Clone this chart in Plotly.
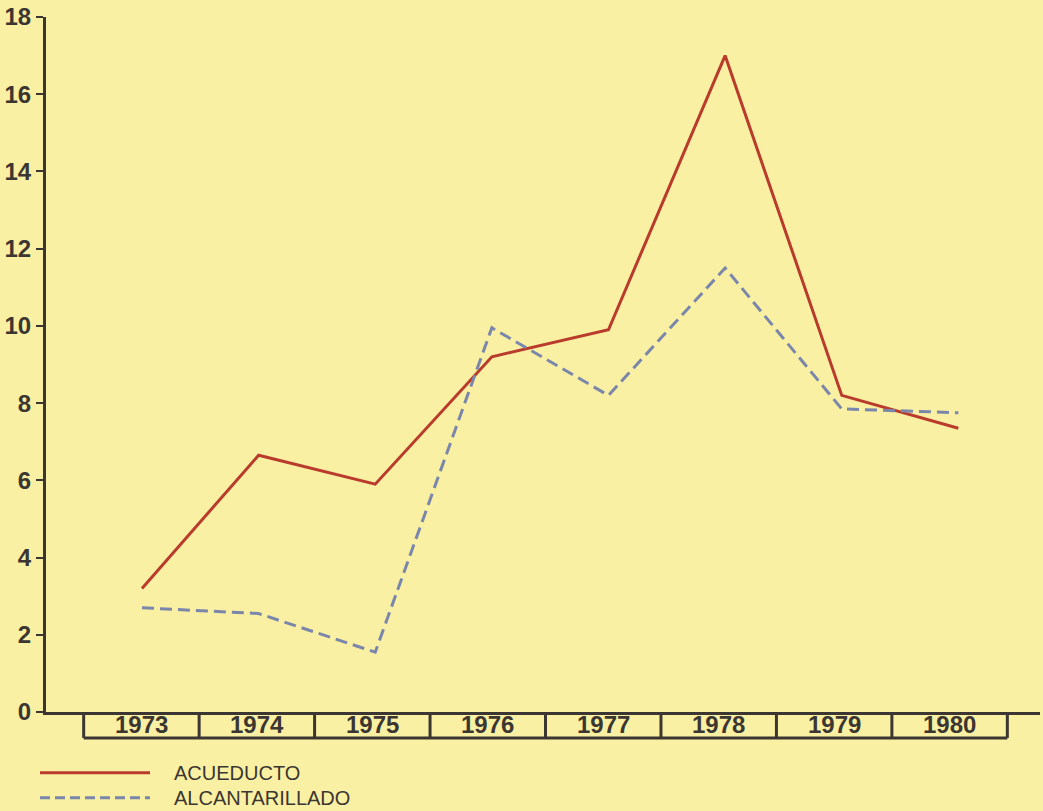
import plotly.graph_objects as go

years = ["1973", "1974", "1975", "1976", "1977", "1978", "1979", "1980"]
acueducto = [3.2, 6.65, 5.9, 9.2, 9.9, 17.0, 8.2, 7.35]
alcantarillado = [2.7, 2.55, 1.55, 9.95, 8.2, 11.5, 7.85, 7.75]
series_names = ["ACUEDUCTO", "ALCANTARILLADO"]
y_ticks = [0, 2, 4, 6, 8, 10, 12, 14, 16, 18]

BG = "#faf0a3"
INK = "#3b3631"
RED = "#b83b2c"
BLUE = "#7a87aa"
FONT = "Liberation Sans, Arial, sans-serif"

W, H = 1043, 811
ML, MR, MT, MB = 46, 3, 15, 99
plot_w = W - ML - MR
plot_h = H - MT - MB

def px_to_paper_y(py):
    return (H - MB - py) / plot_h

def px_to_paper_x(px):
    return (px - ML) / plot_w

idx = list(range(len(years)))
fig = go.Figure()
fig.add_trace(go.Scatter(x=idx, y=acueducto, mode="lines", name=series_names[0],
                         line=dict(color=RED, width=3), showlegend=False))
fig.add_trace(go.Scatter(x=idx, y=alcantarillado, mode="lines", name=series_names[1],
                         line=dict(color=BLUE, width=3, dash="12px,6px"), showlegend=False))

shapes = []
annotations = []
box_bottom = px_to_paper_y(738)
label_mid = px_to_paper_y(725)
step = 0.99
edges = [-0.5 + k * step for k in range(len(years) + 1)]
# category boxes
shapes.append(dict(type="line", xref="x", yref="paper", x0=edges[0], x1=edges[-1],
                   y0=box_bottom, y1=box_bottom, line=dict(color=INK, width=3)))
for e in edges:
    shapes.append(dict(type="line", xref="x", yref="paper", x0=e, x1=e,
                       y0=box_bottom, y1=0, line=dict(color=INK, width=3)))
for i, yr in enumerate(years):
    annotations.append(dict(x=(edges[i] + edges[i + 1]) / 2, y=label_mid, xref="x", yref="paper",
                            text=yr, showarrow=False, xanchor="center", yanchor="middle",
                            font=dict(family=FONT, size=24, color=INK, weight=700)))

# legend drawn manually
leg_rows = [(773, RED, "solid"), (798, BLUE, "10px,5px")]
for (py, col, dash), name in zip(leg_rows, series_names):
    yy = px_to_paper_y(py)
    shapes.append(dict(type="line", xref="paper", yref="paper",
                       x0=px_to_paper_x(40), x1=px_to_paper_x(150), y0=yy, y1=yy,
                       line=dict(color=col, width=3, dash=dash)))
    annotations.append(dict(x=px_to_paper_x(172), y=yy, xref="paper", yref="paper", text=name,
                            showarrow=False, xanchor="left", yanchor="middle",
                            font=dict(family=FONT, size=20, color=INK)))

fig.update_layout(
    width=W, height=H,
    margin=dict(l=ML, r=MR, t=MT, b=MB, pad=0),
    paper_bgcolor=BG, plot_bgcolor=BG,
    shapes=shapes, annotations=annotations,
    xaxis=dict(range=[-0.823, 7.70], showgrid=False, zeroline=False, showticklabels=False,
               showline=True, linecolor=INK, linewidth=3, ticks="", fixedrange=True),
    yaxis=dict(range=[0, 18], tickvals=y_ticks, showgrid=False, zeroline=False,
               showline=True, linecolor=INK, linewidth=3, ticks="outside", ticklen=7,
               tickwidth=2, tickcolor=INK,
               tickfont=dict(family=FONT, size=24, color=INK, weight=700)),
)
fig.write_html("out.html", config={"displayModeBar": False},
               post_script="document.body.style.margin='0';document.body.style.padding='0';"
                           "document.body.style.overflow='hidden';"
                           "document.body.style.background='" + BG + "';")
